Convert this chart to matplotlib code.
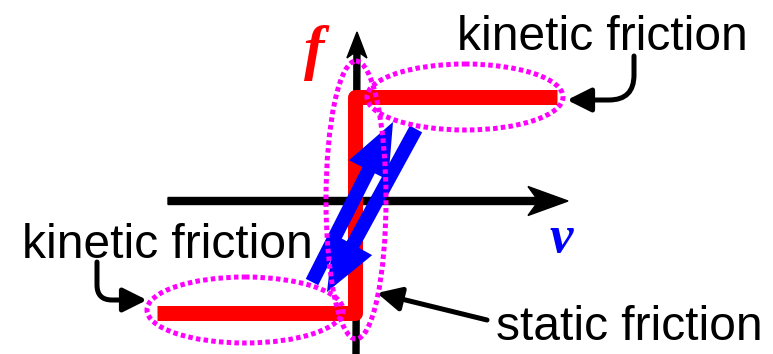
import matplotlib
matplotlib.use("Agg")
import matplotlib.pyplot as plt
from matplotlib.patches import Ellipse, FancyArrow, Polygon
import numpy as np

# friction curve f(v): kinetic branches + static vertical jump (pixel units)
v_neg = [157, 355]
f_neg = [313, 313]
v_pos = [355, 557]
f_pos = [97, 97]
v_static = [355, 355]
f_static = [313, 97]

# highlighted regions: (cx, cy, width, height)
regions = [(465, 97, 196, 66), (245, 310, 196, 66), (356, 200, 60, 278)]

# labels: (text, x, baseline)
labels = [("kinetic friction", 457, 50), ("kinetic friction", 22, 258),
          ("static friction", 496, 340)]

W, H = 773, 354
fig = plt.figure(figsize=(W / 100, H / 100), dpi=100)
ax = fig.add_axes([0, 0, 1, 1])
ax.set_xlim(0, W)
ax.set_ylim(H, 0)
ax.axis("off")
px = 0.72  # points per pixel


def stealth(tail, tip, width, head_w, head_l, notch, **kw):
    tail = np.array(tail, float)
    tip = np.array(tip, float)
    d = tip - tail
    u = d / np.hypot(*d)
    n = np.array([-u[1], u[0]])
    base = tip - u * head_l
    pts = [tail + n * width / 2, base + u * notch + n * width / 2,
           base + n * head_w / 2, tip, base - n * head_w / 2,
           base + u * notch - n * width / 2, tail - n * width / 2]
    ax.add_patch(Polygon(pts, closed=True, **kw))


# axes
stealth((168, 201), (568, 201), 7, 29, 40, 8, color="black", zorder=1)
stealth((356, 354), (357, 32), 6, 20, 26, 5, color="black", zorder=1)

# friction curve
ax.plot(v_neg + v_static[1:] + v_pos[1:], f_neg + f_static[1:] + f_pos[1:],
        color="red", lw=15 * px, solid_joinstyle="round",
        solid_capstyle="butt", zorder=2)

# blue arrows
for tail, tip in [((312, 282), (393, 122)), ((416, 129), (327, 292))]:
    d = np.array(tip) - np.array(tail)
    ax.add_patch(FancyArrow(tail[0], tail[1], d[0], d[1], width=14,
                            head_width=44, head_length=54,
                            length_includes_head=True, color="#0000ff",
                            lw=0, zorder=3))

# dotted ellipses
for cx, cy, w, h in regions:
    ax.add_patch(Ellipse((cx, cy), w, h, fill=False, edgecolor="#ff00ff",
                         lw=5 * px, linestyle=(0, (0.9, 0.65)), zorder=4))

# callout arrows
ap = dict(arrowstyle="-|>,head_length=1.2,head_width=0.6", color="black",
          lw=5 * px, mutation_scale=12, shrinkA=0, shrinkB=0)
ax.annotate("", xy=(567, 100), xytext=(634, 56),
            arrowprops=dict(ap, connectionstyle="angle,angleA=90,angleB=0,rad=25"),
            zorder=5)
ax.annotate("", xy=(147, 300), xytext=(97, 262),
            arrowprops=dict(ap, connectionstyle="angle,angleA=90,angleB=0,rad=15"),
            zorder=5)
ax.annotate("", xy=(377, 293), xytext=(487, 320), arrowprops=ap, zorder=5)

for s, x, y in labels:
    ax.text(x, y, s, family="Liberation Sans", fontsize=34.5,
            ha="left", va="baseline", color="black", zorder=6)

ax.text(314, 68, "f", family="Liberation Serif", style="italic",
        weight="bold", fontsize=44, color="red", ha="center", va="baseline")
ax.text(561, 252, "v", family="Liberation Serif", style="italic",
        weight="bold", fontsize=38, color="#0000ff", ha="center", va="baseline")

fig.savefig("out.png", dpi=100)
